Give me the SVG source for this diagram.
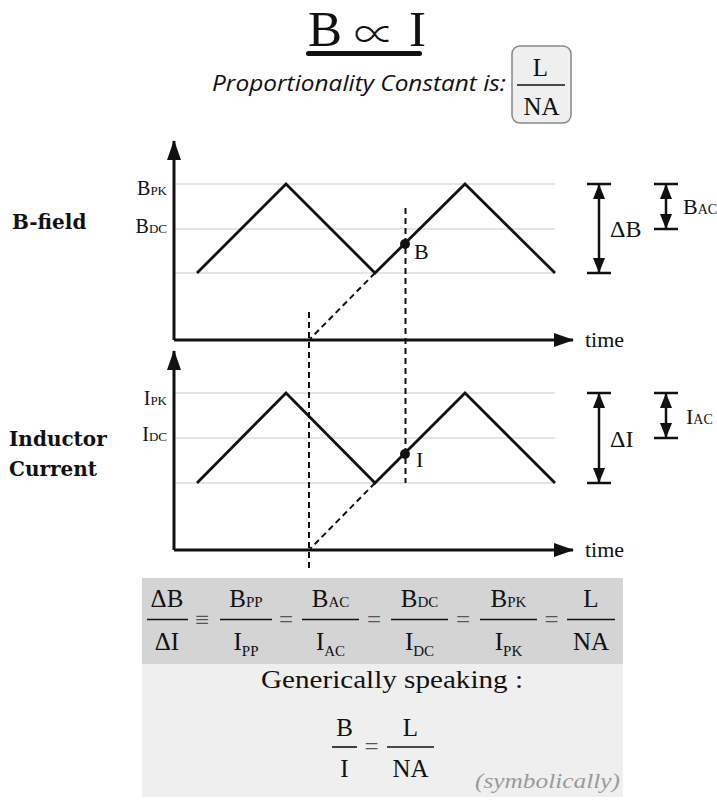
<svg xmlns="http://www.w3.org/2000/svg" width="717" height="803" viewBox="0 0 717 803">
<style>
.s{font-family:"Liberation Serif","Times New Roman",serif;fill:#111}
.b{font-family:"DejaVu Serif","Liberation Serif",serif;font-weight:bold;fill:#111}
.grid{stroke:#dcdcdc;stroke-width:1.5;fill:none}
.wave{stroke:#111;stroke-width:2.8;fill:none;stroke-linejoin:miter}
.axis{stroke:#111;stroke-width:3;fill:none}
.dash{stroke:#111;stroke-width:2;stroke-dasharray:6 4;fill:none}
.dim{stroke:#111;stroke-width:2.5;fill:none}
.bar{stroke:#111;stroke-width:1.6}
.eq{font-family:"Liberation Serif","Times New Roman",serif;font-size:25px;fill:#111;text-anchor:middle}
.op{font-family:"Liberation Serif","Times New Roman",serif;font-size:25px;fill:#555;text-anchor:middle}
.sub{font-size:15px}
</style>
<defs>
<marker id="ax" markerUnits="userSpaceOnUse" markerWidth="20" markerHeight="14" refX="19" refY="7" orient="auto-start-reverse"><path d="M0,0 L20,7 L0,14 z" fill="#111"/></marker>
<marker id="ar" markerUnits="userSpaceOnUse" markerWidth="15" markerHeight="12" refX="14" refY="6" orient="auto-start-reverse"><path d="M0,0 L15,6 L0,12 z" fill="#111"/></marker>
</defs>
<rect width="717" height="803" fill="#fff"/>

<g id="title">
<text class="s" x="308" y="46" font-size="51">B</text>
<text x="374.5" y="48.5" text-anchor="middle" font-family="'Noto Sans CJK SC','DejaVu Sans',sans-serif" font-weight="300" font-size="41" fill="#111">∝</text>
<text class="s" x="409" y="46" font-size="51">I</text>
<rect x="306" y="51" width="116" height="5" rx="2.5" fill="#111"/>
<text x="212" y="91" font-family="'Open Sans','Liberation Sans',sans-serif" font-style="italic" font-size="22" fill="#111" textLength="294" lengthAdjust="spacingAndGlyphs">Proportionality Constant is:</text>
</g>
<g id="constant-box">
<rect x="512" y="46" width="59" height="77" rx="8" fill="#efefef" stroke="#888" stroke-width="1.5"/>
<text class="s" x="540.5" y="76" font-size="25" text-anchor="middle">L</text>
<line class="bar" x1="517" y1="85" x2="565" y2="85"/>
<text class="s" x="541.5" y="115" font-size="25" text-anchor="middle">NA</text>
</g>

<g id="b-field-graph">
<line class="grid" x1="174" y1="184" x2="555" y2="184"/>
<line class="grid" x1="174" y1="229" x2="555" y2="229"/>
<line class="grid" x1="174" y1="273" x2="555" y2="273"/>
<polyline class="wave" points="197,273 286,184 375,273 465,184 555,273"/>
<line class="axis" x1="174" y1="340" x2="174" y2="141" marker-end="url(#ax)"/>
<line class="axis" x1="174" y1="340" x2="573" y2="340" marker-end="url(#ax)"/>
<text class="s" x="585" y="347" font-size="22">time</text>
<text class="s" x="167" y="195" font-size="20" text-anchor="end">B<tspan font-size="13">PK</tspan></text>
<text class="s" x="167" y="233" font-size="20" text-anchor="end">B<tspan font-size="13">DC</tspan></text>
<text class="b" x="12" y="229" font-size="20">B-field</text>
<circle cx="405" cy="244" r="5" fill="#111"/>
<text class="s" x="414" y="259" font-size="22">B</text>
</g>

<g id="inductor-current-graph">
<line class="grid" x1="174" y1="393" x2="555" y2="393"/>
<line class="grid" x1="174" y1="438" x2="555" y2="438"/>
<line class="grid" x1="174" y1="483" x2="555" y2="483"/>
<polyline class="wave" points="197,483 286,393 375,483 465,393 555,483"/>
<line class="axis" x1="174" y1="550" x2="174" y2="351" marker-end="url(#ax)"/>
<line class="axis" x1="174" y1="550" x2="573" y2="550" marker-end="url(#ax)"/>
<text class="s" x="585" y="557" font-size="22">time</text>
<text class="s" x="167" y="405" font-size="20" text-anchor="end">I<tspan font-size="13">PK</tspan></text>
<text class="s" x="167" y="441" font-size="20" text-anchor="end">I<tspan font-size="13">DC</tspan></text>
<text class="b" x="9" y="446" font-size="20">Inductor</text>
<text class="b" x="9" y="476" font-size="20">Current</text>
<circle cx="405" cy="454" r="5" fill="#111"/>
<text class="s" x="416" y="467" font-size="22">I</text>
</g>

<g id="dimensions">
<line class="dim" x1="587" y1="184" x2="611" y2="184"/>
<line class="dim" x1="587" y1="273" x2="611" y2="273"/>
<line class="dim" x1="599" y1="185" x2="599" y2="272" marker-start="url(#ar)" marker-end="url(#ar)"/>
<text class="s" x="610" y="237" font-size="24">ΔB</text>
<line class="dim" x1="654" y1="184" x2="678" y2="184"/>
<line class="dim" x1="654" y1="229" x2="678" y2="229"/>
<line class="dim" x1="666" y1="185" x2="666" y2="228" marker-start="url(#ar)" marker-end="url(#ar)"/>
<text class="s" x="683" y="214" font-size="22">B<tspan font-size="14">AC</tspan></text>
<line class="dim" x1="587" y1="393" x2="611" y2="393"/>
<line class="dim" x1="587" y1="483" x2="611" y2="483"/>
<line class="dim" x1="599" y1="394" x2="599" y2="482" marker-start="url(#ar)" marker-end="url(#ar)"/>
<text class="s" x="610" y="447" font-size="24">ΔI</text>
<line class="dim" x1="654" y1="393" x2="678" y2="393"/>
<line class="dim" x1="654" y1="438" x2="678" y2="438"/>
<line class="dim" x1="666" y1="394" x2="666" y2="437" marker-start="url(#ar)" marker-end="url(#ar)"/>
<text class="s" x="686" y="424" font-size="22">I<tspan font-size="14">AC</tspan></text>
</g>

<g id="connectors">
<line class="dash" x1="405.5" y1="208" x2="405.5" y2="483"/>
<line class="dash" x1="309" y1="312" x2="309" y2="568"/>
<line class="dash" x1="375" y1="273" x2="310" y2="339"/>
<line class="dash" x1="375" y1="483" x2="310" y2="549"/>
</g>

<g id="equation-box">
<rect x="142" y="578" width="481" height="86" fill="#d4d4d4"/>
<rect x="142" y="664" width="481" height="133" fill="#efefef"/>
<text class="eq" x="167" y="607">ΔB</text><line class="bar" x1="147" y1="619.5" x2="188" y2="619.5"/><text class="eq" x="167" y="650">ΔI</text>
<text class="op" x="202" y="628">≡</text>
<text class="eq" x="246" y="607">B<tspan class="sub">PP</tspan></text><line class="bar" x1="220" y1="619.5" x2="272" y2="619.5"/><text class="eq" x="246" y="650">I<tspan class="sub" dy="6">PP</tspan></text>
<text class="op" x="286" y="628">=</text>
<text class="eq" x="330.5" y="607">B<tspan class="sub">AC</tspan></text><line class="bar" x1="302" y1="619.5" x2="359" y2="619.5"/><text class="eq" x="330.5" y="650">I<tspan class="sub" dy="6">AC</tspan></text>
<text class="op" x="374" y="628">=</text>
<text class="eq" x="419.5" y="607">B<tspan class="sub">DC</tspan></text><line class="bar" x1="391" y1="619.5" x2="448" y2="619.5"/><text class="eq" x="419.5" y="650">I<tspan class="sub" dy="6">DC</tspan></text>
<text class="op" x="463" y="628">=</text>
<text class="eq" x="508.5" y="607">B<tspan class="sub">PK</tspan></text><line class="bar" x1="480" y1="619.5" x2="537" y2="619.5"/><text class="eq" x="508.5" y="650">I<tspan class="sub" dy="6">PK</tspan></text>
<text class="op" x="551.5" y="628">=</text>
<text class="eq" x="591" y="607">L</text><line class="bar" x1="567" y1="619.5" x2="615" y2="619.5"/><text class="eq" x="591" y="650">NA</text>
<text class="eq" x="392" y="688" textLength="262" lengthAdjust="spacingAndGlyphs">Generically speaking :</text>
<text class="eq" x="344.5" y="736">B</text><line class="bar" x1="332" y1="747" x2="357" y2="747"/><text class="eq" x="344.5" y="777">I</text>
<text class="op" x="371.5" y="755">=</text>
<text class="eq" x="410.5" y="736">L</text><line class="bar" x1="387" y1="747" x2="434" y2="747"/><text class="eq" x="410.5" y="777">NA</text>
<text x="475" y="788" font-family="'Liberation Serif',serif" font-size="21" font-style="italic" fill="#9a9a9a" textLength="145" lengthAdjust="spacingAndGlyphs">(symbolically)</text>
</g>
</svg>
